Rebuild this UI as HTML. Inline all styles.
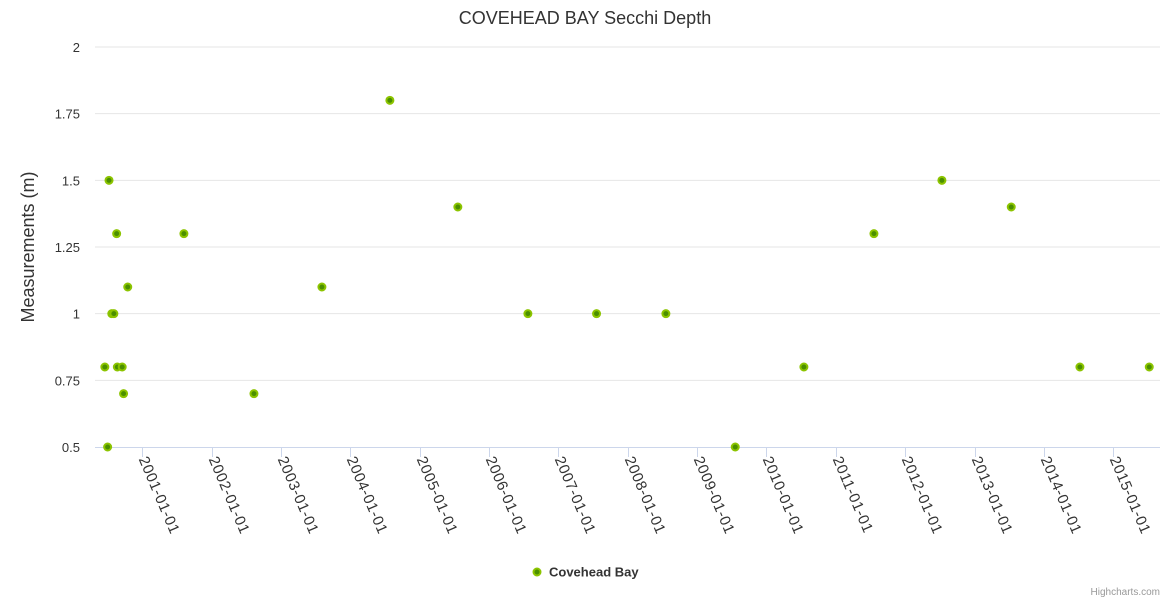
<!DOCTYPE html>
<html><head><meta charset="utf-8"><style>
body{margin:0;background:#fff;}
svg{display:block;font-family:"Liberation Sans",sans-serif;}
</style></head><body>
<svg id="chart" width="1170" height="600" xmlns="http://www.w3.org/2000/svg">
<rect width="1170" height="600" fill="#fff"/>
<text x="585" y="24" text-anchor="middle" font-size="18" fill="#333">COVEHEAD BAY Secchi Depth</text>
<text transform="translate(34,247) rotate(-90)" text-anchor="middle" font-size="18" fill="#333">Measurements (m)</text>
<g id="grid"></g><g id="xaxis"></g><g id="points"></g>
<g>
<circle cx="537" cy="572" r="3.5" fill="#4b8f00" stroke="#8cc400" stroke-width="2"/>
<text x="549" y="576.5" font-size="13" font-weight="bold" fill="#333">Covehead Bay</text>
</g>
<text x="1160" y="595" text-anchor="end" font-size="10" fill="#999">Highcharts.com</text>
</svg>
<script>
const yTicks=[0.5,0.75,1,1.25,1.5,1.75,2];
const yTickLabels=["0.5","0.75","1","1.25","1.5","1.75","2"];
const xTickYears=[2001,2002,2003,2004,2005,2006,2007,2008,2009,2010,2011,2012,2013,2014,2015];
const dates=[2000.46,2000.50,2000.52,2000.56,2000.59,2000.63,2000.64,2000.71,2000.73,2000.79,2001.60,2002.61,2003.59,2004.57,2005.55,2006.56,2007.55,2008.55,2009.55,2010.54,2011.55,2012.53,2013.53,2014.52,2015.52];
const values=[0.8,0.5,1.5,1.0,1.0,1.3,0.8,0.8,0.7,1.1,1.3,0.7,1.1,1.8,1.4,1.0,1.0,1.0,0.5,0.8,1.3,1.5,1.4,0.8,0.8];
const NS="http://www.w3.org/2000/svg";
const X0=95,X1=1160,Y0=447,Y1=47;
function xs(t){return 142.3+(t-2001)*69.35;}
function ys(v){return Y0-(v-0.5)/1.5*(Y0-Y1);}
function mk(tag,a,parent){const e=document.createElementNS(NS,tag);for(const k in a)e.setAttribute(k,a[k]);parent.appendChild(e);return e;}
const grid=document.getElementById('grid');
yTicks.forEach((v,i)=>{
  if(v!==0.5){const l=mk('line',{x1:X0,x2:X1,y1:ys(v),y2:ys(v),stroke:'#e6e6e6'},grid);
  
  }
  const t=mk('text',{x:80,y:ys(v)+5,'text-anchor':'end','font-size':13,fill:'#333'},grid);
  t.textContent=yTickLabels[i];
  
  
});
const xa=document.getElementById('xaxis');
const ax=mk('line',{x1:X0,x2:X1,y1:Y0+0.5,y2:Y0+0.5,stroke:'#ccd6eb'},xa);


xTickYears.forEach(yr=>{
  const x=Math.round(xs(yr))+0.5;
  const tk=mk('line',{x1:x,x2:x,y1:Y0,y2:Y0+10,stroke:'#ccd6eb'},xa);
  
  
  const t=mk('text',{transform:`translate(${x-4},${Y0+12}) rotate(67)`,'font-size':15,'letter-spacing':'0.6',fill:'#333'},xa);
  t.textContent=yr+'-01-01';
  
  
});
const pts=document.getElementById('points');
dates.forEach((d,i)=>{
  const c=mk('circle',{cx:xs(d),cy:ys(values[i]),r:3.5,fill:'#4b8f00',stroke:'#8cc400','stroke-width':2},pts);
  
  
});
</script>
</body></html>
